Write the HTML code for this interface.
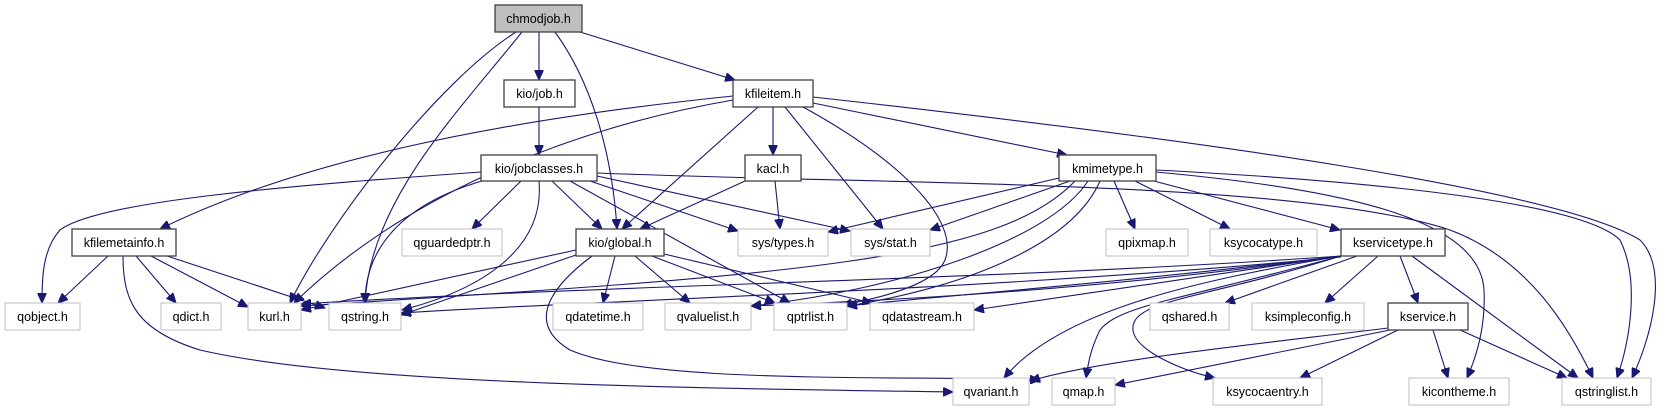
<!DOCTYPE html>
<html><head><meta charset="utf-8"><style>
html,body{margin:0;padding:0;background:#fff;}
svg{display:block}
text{font-family:"Liberation Sans",Arial,sans-serif;font-size:12.5px;fill:#000;text-anchor:middle}
.e{fill:none;stroke:#191970;stroke-width:1.1;marker-end:url(#a)}
.g{fill:#fff;stroke:#bfbfbf;stroke-width:1}
.b{fill:#fff;stroke:#404040;stroke-width:1.3}
</style></head><body>
<svg width="1679" height="411" viewBox="0 0 1679 411" xmlns="http://www.w3.org/2000/svg">
<defs><marker id="a" markerWidth="11" markerHeight="9" refX="10" refY="4.5" orient="auto" markerUnits="userSpaceOnUse"><path d="M0,0 L10,4.5 L0,9 z" fill="#191970" stroke="#191970"/></marker></defs>
<!-- edges -->
<path class="e" d="M539,32 L539,80"/>
<path class="e" d="M580,32 L735,80"/>
<path class="e" d="M555,32 C590,80 612,150 617,229"/>
<path class="e" d="M516,32 C440,80 330,220 290,303"/>
<path class="e" d="M522,32 C460,110 370,200 365,303"/>
<path class="e" d="M539,107 L539,155"/>
<path class="e" d="M733,96 C500,120 300,160 160,229"/>
<path class="e" d="M733,100 C560,130 400,200 294,303"/>
<path class="e" d="M758,107 L622,229"/>
<path class="e" d="M773,107 L773,155"/>
<path class="e" d="M785,107 L883,229"/>
<path class="e" d="M803,107 C900,160 960,220 945,260 C935,285 880,298 842,305"/>
<path class="e" d="M813,103 L1067,155"/>
<path class="e" d="M813,97 C1200,140 1560,190 1640,240 C1670,270 1650,340 1632,378"/>
<path class="e" d="M481,172 C300,185 100,200 60,230 C42,250 42,280 42,303"/>
<path class="e" d="M482,181 C400,205 365,250 365,303"/>
<path class="e" d="M521,181 L472,229"/>
<path class="e" d="M539,181 C545,250 480,290 402,310"/>
<path class="e" d="M552,181 L602,229"/>
<path class="e" d="M570,181 L790,303"/>
<path class="e" d="M590,181 L738,231"/>
<path class="e" d="M597,176 L850,231"/>
<path class="e" d="M597,173 C900,185 1300,180 1450,230 C1530,260 1570,330 1593,378"/>
<path class="e" d="M775,181 L780,229"/>
<path class="e" d="M745,181 L640,229"/>
<path class="e" d="M576,250 L301,310"/>
<path class="e" d="M576,255 L401,315"/>
<path class="e" d="M615,256 L603,303"/>
<path class="e" d="M635,256 L690,303"/>
<path class="e" d="M652,256 L775,303"/>
<path class="e" d="M664,254 L872,303"/>
<path class="e" d="M592,256 C560,280 520,320 570,350 C650,385 900,375 1040,380"/>
<path class="e" d="M108,256 L58,303"/>
<path class="e" d="M136,256 L176,303"/>
<path class="e" d="M151,256 L248,307"/>
<path class="e" d="M167,256 L325,308"/>
<path class="e" d="M123,256 C123,300 135,330 200,350 C350,385 700,388 953,392"/>
<path class="e" d="M1059,178 L828,232"/>
<path class="e" d="M1070,181 L930,230"/>
<path class="e" d="M1075,181 C1000,260 800,275 301,306"/>
<path class="e" d="M1088,181 C1050,240 900,290 751,306"/>
<path class="e" d="M1100,181 C1070,250 950,290 847,306"/>
<path class="e" d="M1114,181 L1135,229"/>
<path class="e" d="M1135,181 L1230,229"/>
<path class="e" d="M1150,180 L1340,230"/>
<path class="e" d="M1156,170 C1350,180 1580,200 1620,240 C1640,280 1630,340 1617,378"/>
<path class="e" d="M1156,172 C1350,190 1480,220 1484,290 C1486,330 1475,360 1467,378"/>
<path class="e" d="M1341,256 C1200,280 1060,310 1004,378"/>
<path class="e" d="M1341,256 C1180,300 1120,305 1100,330 C1090,350 1088,365 1086,378"/>
<path class="e" d="M1341,256 C1200,300 1130,300 1133,330 C1135,350 1180,370 1215,378"/>
<path class="e" d="M1341,256 L974,310"/>
<path class="e" d="M1341,256 C1100,285 950,295 847,306"/>
<path class="e" d="M1341,256 C1100,290 900,300 751,306"/>
<path class="e" d="M1341,256 C1000,280 600,285 301,304"/>
<path class="e" d="M1341,257 C1000,290 600,300 401,313"/>
<path class="e" d="M1357,256 L1225,303"/>
<path class="e" d="M1378,256 L1325,303"/>
<path class="e" d="M1400,256 L1418,303"/>
<path class="e" d="M1412,256 L1578,378"/>
<path class="e" d="M1460,330 L1567,378"/>
<path class="e" d="M1433,330 L1448,378"/>
<path class="e" d="M1398,330 L1300,378"/>
<path class="e" d="M1388,328 C1250,345 1100,360 1030,381"/>
<path class="e" d="M1390,330 L1115,385"/>
<!-- nodes -->
<rect x="495" y="5" width="87" height="27" fill="#bfbfbf" stroke="#404040" stroke-width="1.3"/><text x="538.5" y="23">chmodjob.h</text>
<rect class="b" x="504" y="80" width="71" height="27"/><text x="539.5" y="98">kio/job.h</text>
<rect class="b" x="733" y="80" width="80" height="27"/><text x="773" y="98">kfileitem.h</text>
<rect class="b" x="481" y="155" width="116" height="26"/><text x="539" y="173">kio/jobclasses.h</text>
<rect class="b" x="745" y="155" width="56" height="26"/><text x="773" y="173">kacl.h</text>
<rect class="b" x="1059" y="155" width="97" height="26"/><text x="1107.5" y="173">kmimetype.h</text>
<rect class="b" x="72" y="229" width="104" height="27"/><text x="124" y="247">kfilemetainfo.h</text>
<rect class="g" x="402" y="229" width="100" height="27"/><text x="452" y="247">qguardedptr.h</text>
<rect class="b" x="576" y="229" width="88" height="27"/><text x="620" y="247">kio/global.h</text>
<rect class="g" x="738" y="229" width="90" height="27"/><text x="783" y="247">sys/types.h</text>
<rect class="g" x="851" y="229" width="79" height="27"/><text x="890.5" y="247">sys/stat.h</text>
<rect class="g" x="1106" y="229" width="82" height="27"/><text x="1147" y="247">qpixmap.h</text>
<rect class="g" x="1210" y="229" width="107" height="27"/><text x="1263.5" y="247">ksycocatype.h</text>
<rect class="b" x="1341" y="229" width="104" height="27"/><text x="1393" y="247">kservicetype.h</text>
<rect class="g" x="5" y="303" width="75" height="27"/><text x="42.5" y="321">qobject.h</text>
<rect class="g" x="161" y="303" width="60" height="27"/><text x="191" y="321">qdict.h</text>
<rect class="g" x="248" y="303" width="53" height="27"/><text x="274.5" y="321">kurl.h</text>
<rect class="g" x="329" y="303" width="72" height="27"/><text x="365" y="321">qstring.h</text>
<rect class="g" x="553" y="303" width="90" height="27"/><text x="598" y="321">qdatetime.h</text>
<rect class="g" x="665" y="303" width="86" height="27"/><text x="708" y="321">qvaluelist.h</text>
<rect class="g" x="774" y="303" width="73" height="27"/><text x="810.5" y="321">qptrlist.h</text>
<rect class="g" x="870" y="303" width="104" height="27"/><text x="922" y="321">qdatastream.h</text>
<rect class="g" x="1150" y="303" width="79" height="27"/><text x="1189.5" y="321">qshared.h</text>
<rect class="g" x="1252" y="303" width="112" height="27"/><text x="1308" y="321">ksimpleconfig.h</text>
<rect class="b" x="1388" y="303" width="80" height="27"/><text x="1428" y="321">kservice.h</text>
<rect class="g" x="953" y="378" width="76" height="27"/><text x="991" y="396">qvariant.h</text>
<rect class="g" x="1052" y="378" width="63" height="27"/><text x="1083.5" y="396">qmap.h</text>
<rect class="g" x="1213" y="378" width="109" height="27"/><text x="1267.5" y="396">ksycocaentry.h</text>
<rect class="g" x="1409" y="378" width="100" height="27"/><text x="1459" y="396">kicontheme.h</text>
<rect class="g" x="1562" y="378" width="89" height="27"/><text x="1606.5" y="396">qstringlist.h</text>
</svg>
</body></html>
